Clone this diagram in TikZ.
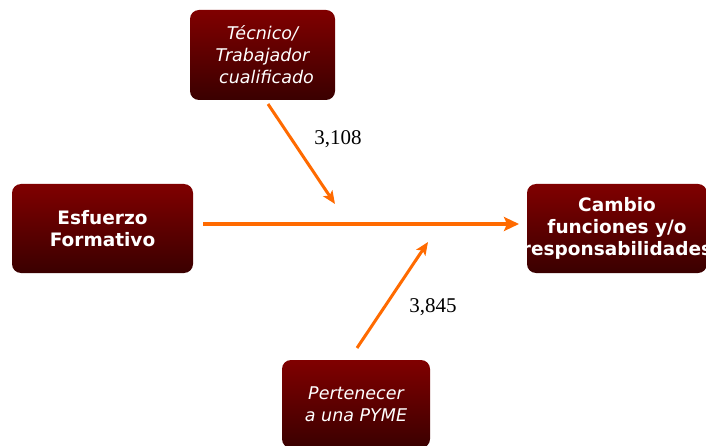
\documentclass[tikz,border=0pt]{standalone}
\usepackage{fontspec}
\setmainfont{DejaVu Sans}
\usetikzlibrary{arrows.meta}
\definecolor{boxtop}{HTML}{800000}
\definecolor{boxbot}{HTML}{3A0000}
\definecolor{arr}{HTML}{FF6A00}
\tikzset{
  box/.style={rectangle, rounded corners=9pt, top color=boxtop, bottom color=boxbot,
    draw=none, text=white, align=center, inner sep=0pt},
  bbox/.style={box, font=\bfseries\fontsize{18.5}{22}\selectfont},
  ibox/.style={box, font=\itshape\fontsize{17.5}{22}\selectfont},
  conn/.style={draw=arr, line width=3pt, -{Stealth[length=13pt,width=11pt,inset=3pt]}},
  val/.style={font=\fontspec{Liberation Serif}\fontsize{21}{24}\selectfont, text=black}
}
\begin{document}
\begin{tikzpicture}[x=1pt,y=-1pt]
\useasboundingbox (0,0) rectangle (706,446);
\node[ibox, minimum width=145pt, minimum height=90pt] (tec) at (262.5,55) {Técnico/\\Trabajador\\\hspace*{8pt}cualificado};
\node[bbox, minimum width=181pt, minimum height=89pt] (esf) at (102.5,228.5) {Esfuerzo\\Formativo};
\node[bbox, minimum width=180pt, minimum height=89pt] (cam) at (617,228.5) {Cambio\\funciones y/o\\\makebox[0pt]{responsabilidades}};
\node[ibox, minimum width=148pt, minimum height=88pt] (pym) at (356,404) {Pertenecer\\a una PYME};
\coordinate (t1) at (268,104);
\coordinate (t2) at (335,204);
\coordinate (b1) at (357,348);
\coordinate (b2) at (428,242);
\coordinate (m1) at (203,224);
\coordinate (m2) at (519,224);
\draw[conn] (t1) -- (t2);
\draw[conn] (b1) -- (b2);
\draw[conn, line width=4pt, -{Stealth[length=15pt,width=14pt,inset=3pt]}] (m1) -- (m2);
\node[val] (v1) at (338,139) {3,108};
\node[val] (v2) at (433,307) {3,845};
\end{tikzpicture}
\end{document}
